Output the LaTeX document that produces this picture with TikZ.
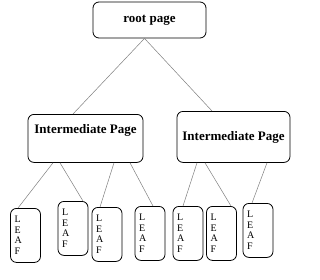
\documentclass[tikz,border=0pt]{standalone}
\usepackage{fontspec}
\setmainfont{Liberation Serif}
\usepackage{tikz}
\usetikzlibrary{positioning}

\begin{document}
\begin{tikzpicture}[
    x=1pt, y=-1pt,
    page/.style={draw, rectangle, rounded corners=6pt, line width=0.8pt, inner sep=0pt, font=\fontsize{13}{15}\selectfont\bfseries},
    leaf/.style={draw, rectangle, rounded corners=6pt, line width=0.8pt, anchor=north, minimum height=54pt, text width=22pt, inner xsep=4pt, inner ysep=0pt, align=left, font=\fontsize{10}{10.5}\selectfont},
    link/.style={gray, line width=0.5pt},
]
\useasboundingbox[fill=white] (0,0) rectangle (320,279);

\node[page, minimum width=113pt, minimum height=36pt] (root) at (149.5,20) {root page};

\node[page, anchor=north, minimum width=115pt, text height=19pt, text depth=29pt] (im1) at (85.5,114) {Intermediate Page};
\node[page, anchor=north, minimum width=113pt, text height=29pt, text depth=22pt] (im2) at (233.5,111) {Intermediate Page};

\node[leaf] (lf1) at (25.5,208) {L\\E\\A\\F};
\node[leaf] (lf2) at (73,201) {L\\E\\A\\F};
\node[leaf] (lf3) at (107,207) {L\\E\\A\\F};
\node[leaf] (lf4) at (150,206) {L\\E\\A\\F};
\node[leaf] (lf5) at (188,206) {L\\E\\A\\F};
\node[leaf] (lf6) at (221.5,206) {L\\E\\A\\F};
\node[leaf] (lf7) at (258,203) {L\\E\\A\\F};

\draw[link] ([xshift=-5pt]root.south) -- ([xshift=-12.5pt]im1.north);
\draw[link] ([xshift=-5pt]root.south) -- ([xshift=-21.5pt]im2.north);

\draw[link] ([xshift=-32.5pt]im1.south) -- ([xshift=-7.5pt]lf1.north);
\draw[link] ([xshift=-25.5pt]im1.south) -- ([xshift=10pt]lf2.north);
\draw[link] ([xshift=28.5pt]im1.south) -- ([xshift=-7pt]lf3.north);
\draw[link] ([xshift=44.5pt]im1.south) -- ([xshift=3pt]lf4.north);

\draw[link] ([xshift=-36.5pt]im2.south) -- ([xshift=-5pt]lf5.north);
\draw[link] ([xshift=-28.5pt]im2.south) -- ([xshift=9.5pt]lf6.north);
\draw[link] ([xshift=33.5pt]im2.south) -- ([xshift=-6pt]lf7.north);
\end{tikzpicture}
\end{document}
